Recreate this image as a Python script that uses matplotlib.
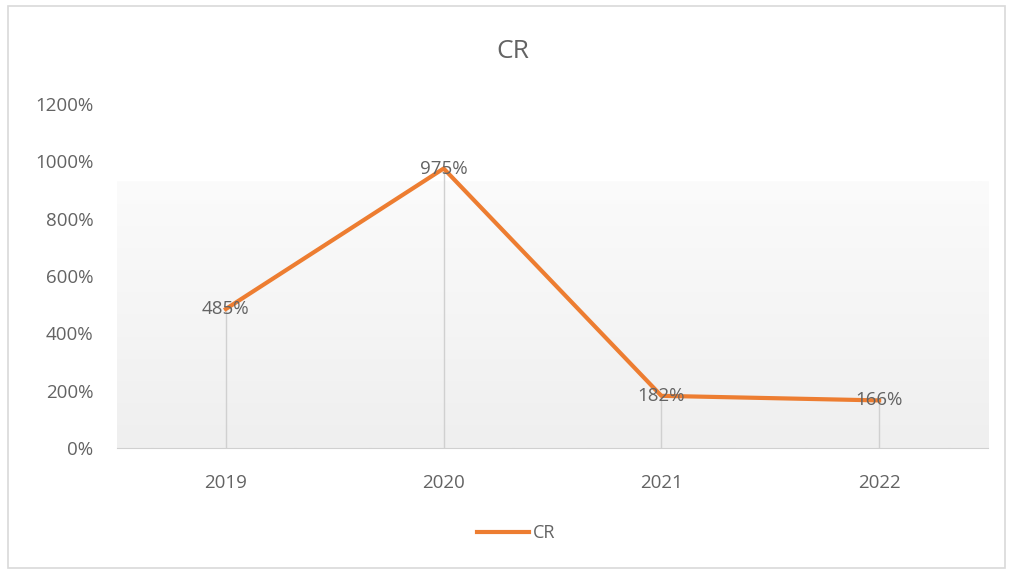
import numpy as np
import matplotlib.pyplot as plt
from matplotlib.colors import LinearSegmentedColormap
from matplotlib.patches import Rectangle
from matplotlib.lines import Line2D

years = ['2019', '2020', '2021', '2022']
cr = [485, 975, 182, 166]
y_ticks = [0, 200, 400, 600, 800, 1000, 1200]

W, H = 1013, 571
text_gray = '#636363'
orange = '#ED7D31'

plt.rcParams['font.family'] = ['Open Sans', 'DejaVu Sans']

fig = plt.figure(figsize=(W / 100, H / 100), dpi=100)

# chart frame
fig.patches.append(Rectangle((8 / W, 1 - 568 / H), 997 / W, 562 / H,
                             transform=fig.transFigure, fill=False,
                             edgecolor='#d9d9d9', lw=1.2))

ax = fig.add_axes([117 / W, 1 - 448 / H, (988 - 117) / W, (448 - 104) / H])
x = np.arange(len(years))

# soft gradient behind the plot, light at the top, greyer at the bottom
grad = np.linspace(0, 1, 256).reshape(-1, 1)
cmap = LinearSegmentedColormap.from_list('bg', ['#fbfbfb', '#efefef'])
ax.imshow(grad, cmap=cmap, aspect='auto', extent=[-0.5, 3.5, 0, 930],
          origin='upper', zorder=0, interpolation='bilinear')

ax.vlines(x, 0, cr, color='#d0d0d0', lw=1, zorder=1)
ax.plot(x, cr, color=orange, lw=3, solid_joinstyle='round', zorder=2)

for xi, v in zip(x, cr):
    ax.text(xi, v, f'{v}%', ha='center', va='center', fontsize=13.5,
            color=text_gray, zorder=3)

ax.set_xlim(-0.5, 3.5)
ax.set_ylim(0, 1200)
ax.set_xticks(x)
ax.set_xticklabels(years)
ax.set_yticks(y_ticks)
ax.set_yticklabels([f'{t}%' for t in y_ticks])
ax.tick_params(axis='both', length=0, labelsize=13.5, labelcolor=text_gray)
ax.tick_params(axis='x', pad=19)
ax.tick_params(axis='y', pad=17)
for side in ['top', 'right', 'left']:
    ax.spines[side].set_visible(False)
ax.spines['bottom'].set_color('#d0d0d0')
ax.patch.set_alpha(0)

fig.text(513 / W, 1 - 51 / H, 'CR', ha='center', va='center',
         fontsize=19, color=text_gray)

fig.legend(handles=[Line2D([0], [0], color=orange, lw=3)], labels=['CR'],
           loc='center', bbox_to_anchor=(516 / W, 1 - 533 / H),
           frameon=False, fontsize=13, labelcolor=text_gray,
           handlelength=2.9, handletextpad=0.2)

fig.savefig('out.png', dpi=100, facecolor='white')
